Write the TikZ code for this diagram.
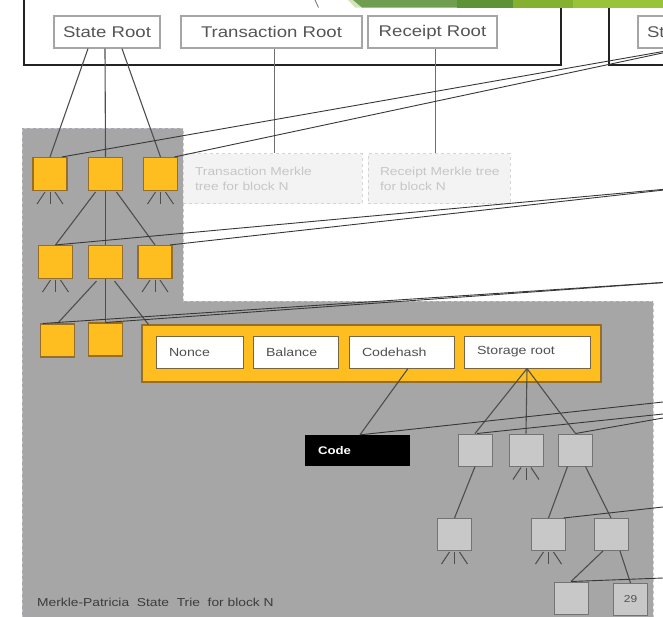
\documentclass[tikz,border=0pt]{standalone}
\usepackage{fontspec}
\setmainfont{Liberation Sans}[FakeStretch=1.2]
\usetikzlibrary{calc}

\definecolor{frameblack}{RGB}{35,35,35}
\definecolor{rootedge}{RGB}{165,165,165}
\definecolor{roottext}{RGB}{85,85,85}
\definecolor{triegrey}{RGB}{166,166,166}
\definecolor{trieedge}{RGB}{196,196,204}
\definecolor{nodeorange}{RGB}{255,190,32}
\definecolor{orangeedge}{RGB}{150,110,40}
\definecolor{fieldedge}{RGB}{120,100,70}
\definecolor{fieldtext}{RGB}{80,80,80}
\definecolor{storefill}{RGB}{200,200,200}
\definecolor{storeedge}{RGB}{115,115,115}
\definecolor{linkgrey}{RGB}{78,78,78}
\definecolor{rootlink}{RGB}{110,110,110}
\definecolor{nextgrey}{RGB}{55,55,55}
\definecolor{fadefill}{RGB}{243,243,243}
\definecolor{fadeedge}{RGB}{212,212,212}
\definecolor{fadetext}{RGB}{198,198,198}
\definecolor{captiontext}{RGB}{60,60,60}
\definecolor{greenPale}{RGB}{210,228,188}
\definecolor{greenA}{RGB}{112,158,80}
\definecolor{greenB}{RGB}{94,146,54}
\definecolor{greenC}{RGB}{132,178,48}
\definecolor{greenD}{RGB}{153,196,58}

% three short fan lines under a node whose children are not shown
\newcommand\nodelegs[2][linkgrey]{%
  \draw[#1, line width=1pt] ($(#2.south)+(-5,1)$) -- ++(-8,12);
  \draw[#1, line width=1pt] ($(#2.south)+(0,1)$) -- ++(0,12);
  \draw[#1, line width=1pt] ($(#2.south)+(5,1)$) -- ++(8,12);
}

\begin{document}
\begin{tikzpicture}[x=1pt, y=-1pt,
  blockframe/.style={draw=frameblack, line width=2.8pt},
  rootbox/.style={draw=rootedge, line width=1.3pt, fill=white, text=roottext,
    minimum height=32, inner sep=0pt, font=\fontsize{15.5}{18}\selectfont},
  fadebox/.style={draw=fadeedge, dashed, line width=1pt, fill=fadefill, text=fadetext,
    minimum height=50, inner xsep=12pt, inner ysep=0pt, align=left,
    font=\fontsize{11.5}{15}\selectfont},
  trienode/.style={draw=orangeedge, fill=nodeorange, line width=1.1pt,
    minimum width=34, minimum height=33, inner sep=0pt},
  accountbox/.style={draw=orangeedge, fill=nodeorange, line width=1.1pt,
    minimum width=459, minimum height=57, inner sep=0pt},
  fieldbox/.style={draw=fieldedge, fill=white, line width=1pt, text=fieldtext,
    minimum height=32, inner xsep=13pt, inner ysep=0pt, align=left,
    font=\fontsize{11.8}{13}\selectfont},
  codebox/.style={fill=black, text=white, minimum width=105, minimum height=31,
    inner xsep=13pt, inner ysep=0pt, text width=79, align=left,
    font=\bfseries\fontsize{11}{13}\selectfont},
  storenode/.style={draw=storeedge, fill=storefill, line width=1pt,
    minimum width=34, minimum height=32, inner sep=0pt, text=fieldtext,
    font=\fontsize{10}{12}\selectfont},
  link/.style={draw=linkgrey, line width=1.1pt},
  rootline/.style={draw=rootlink, line width=1pt},
  nextlink/.style={draw=nextgrey, line width=0.9pt},
]
\useasboundingbox (0,0) rectangle (663,616);
\clip (0,0) rectangle (663,616);

% block header frames (block N and block N+1)
\draw[blockframe] (24,-10) |- (561,65) -- (561,-10);
\draw[blockframe] (609,-10) |- (680,65);

% slide ribbon at the top edge
\draw[rootlink, line width=0.8pt] (315,0) -- (318.5,7.5);
\fill[greenPale] (348,0) -- (356,0) -- (363,7.5) -- (355,7.5) -- cycle;
\fill[greenA] (353,0) -- (457,0) -- (457,7.5) -- (362,7.5) -- cycle;
\fill[greenB] (457,0) rectangle (513,7.5);
\fill[greenC] (513,0) rectangle (573,7.5);
\fill[greenD] (573,0) rectangle (663,7.5);

% state trie area
\fill[triegrey] (22,128) -- (183,128) -- (183,301) -- (653,301) -- (653,630) -- (22,630) -- cycle;
\draw[trieedge, dashed, line width=1pt] (22,630) -- (22,128) -- (183,128) -- (183,301) -- (653,301) -- (653,630);

% header roots
\node[rootbox, minimum width=106] (stateroot) at (107,32) {State Root};
\node[rootbox, minimum width=181] (txroot) at (271.5,32) {Transaction Root};
\node[rootbox, minimum width=129] (rxroot) at (432.5,32) {Receipt Root};
\node[rootbox, minimum width=106] (nextroot) at (691,32) {State Root};

% faded transaction / receipt tries
\node[fadebox, minimum width=179, text width=155] (txtree) at (272.5,178.5)
  {Transaction Merkle\\tree for block N};
\node[fadebox, minimum width=142, text width=118] (rxtree) at (439,178.5)
  {\mbox{Receipt Merkle tree}\\for block N};

\coordinate (txdrop) at ($(txroot.south)+(2.5,0)$);
\coordinate (rxdrop) at ($(rxroot.south)+(2.5,0)$);
\draw[rootline] (txdrop) -- (txdrop |- txtree.north);
\draw[rootline] (rxdrop) -- (rxdrop |- rxtree.north);

% state trie nodes
\node[trienode] (a1) at (50,174) {};
\node[trienode] (a2) at (105.5,174) {};
\node[trienode] (a3) at (160.5,174) {};
\node[trienode] (b1) at (55.5,262) {};
\node[trienode] (b2) at (105.5,262) {};
\node[trienode] (b3) at (155,262) {};
\node[trienode] (c1) at (57.5,340.5) {};
\node[trienode] (c2) at (105.5,339.5) {};

% account leaf
\node[accountbox] (account) at (371.5,353.5) {};
\node[fieldbox, minimum width=87, text width=61] (nonce) at (199.5,352) {Nonce};
\node[fieldbox, minimum width=85, text width=59] (balance) at (295.5,352) {Balance};
\node[fieldbox, minimum width=105, text width=79] (codehash) at (401.5,352) {Codehash};
\node[fieldbox, minimum width=126, text width=100] (storageroot) at (527,352) {Storage root};

\node[codebox] (code) at (357.5,450.5) {Code};

% storage trie nodes
\node[storenode] (s1) at (475,450) {};
\node[storenode] (s2) at (526,450) {};
\node[storenode] (s3) at (575.5,450) {};
\node[storenode] (t1) at (454.5,534.5) {};
\node[storenode] (t2) at (548.5,534.5) {};
\node[storenode] (t3) at (611,534.5) {};
\node[storenode] (u1) at (571,598) {};
\node[storenode] (u2) at (630.5,599.5) {29};

% caption
\node[anchor=west, text=captiontext, inner sep=0pt, font=\fontsize{11.5}{13}\selectfont]
  (caption) at (37,602) {Merkle-Patricia~ State~ Trie~ for block N};

% state root to trie
\draw[link] ($(stateroot.south)+(-19,0)$) -- (a1.north);
\draw[link] ($(stateroot.south)+(-2,0)$) -- (a2.north);
\draw[link] ($(stateroot.south)+(15,0)$) -- (a3.north);

\draw[link] ($(a2.south)+(-10,1)$) -- (b1.north);
\draw[link] (a2.south) -- (b2.north);
\draw[link] ($(a2.south)+(11,1)$) -- (b3.north);

\draw[link] ($(b2.south)+(-9,2)$) -- (c1.north);
\draw[link] (b2.south) -- (c2.north);
\draw[link] ($(b2.south)+(9,2)$) -- ($(account.north west)+(7,0)$);

\nodelegs{a1}
\nodelegs{a3}
\nodelegs{b1}
\nodelegs{b3}

% account to code and storage
\draw[link] ($(codehash.south)+(6.5,0)$) -- ($(code.north)+(2.5,0)$);
\draw[link] (storageroot.south) -- (s1.north);
\draw[link] (storageroot.south) -- (s2.north);
\draw[link] (storageroot.south) -- (s3.north);

\draw[link] (s1.south) -- (t1.north);
\draw[link] ($(s3.south)+(-8,0)$) -- (t2.north);
\draw[link] ($(s3.south)+(10,0)$) -- (t3.north);
\draw[link] ($(t3.south)+(-8,0)$) -- (u1.north);
\draw[link] ($(t3.south)+(9,0)$) -- (u2.north);

\nodelegs{s2}
\nodelegs{t1}
\nodelegs{t2}

% links shared with the next block's trie
\coordinate (nxA) at (700,45);
\coordinate (nxB) at (700,186);
\coordinate (nxC) at (700,280);
\coordinate (nxD) at (663,402);
\coordinate (nxE) at (663,414);
\coordinate (nxF) at (663,418);
\coordinate (nxG) at (663,507);
\coordinate (nxH) at (663,578);

\draw[nextlink] (nxA) -- ($(a1.north)+(12,0)$);
\draw[nextlink] (nxA) -- ($(a3.north)+(14,0)$);
\draw[nextlink] (nxB) -- (b1.north);
\draw[nextlink] (nxB) -- ($(b3.north)+(15,0)$);
\draw[nextlink] (nxC) -- ($(c1.north west)+(3,0)$);
\draw[nextlink] (nxC) -- (c2.north);
\draw[nextlink] (nxD) -- ($(code.north)+(3,0)$);
\draw[nextlink] (nxE) -- ($(s1.north)+(2,0)$);
\draw[nextlink] (nxF) -- (s3.north);
\draw[nextlink] (nxG) -- ($(t2.north)+(15,0)$);
\draw[nextlink] (nxH) -- (u1.north);
\end{tikzpicture}
\end{document}
